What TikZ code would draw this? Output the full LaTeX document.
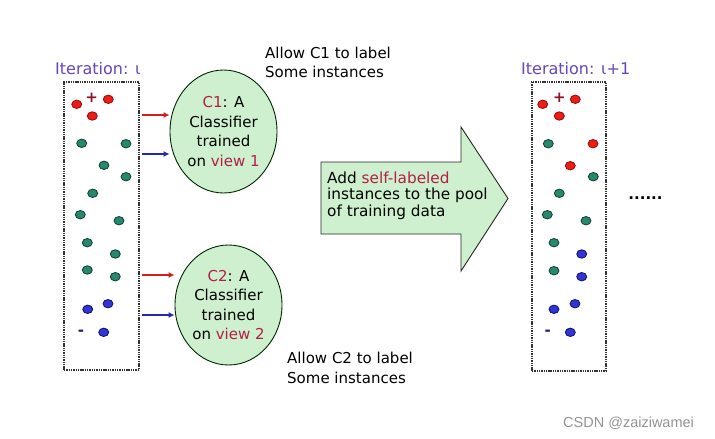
\documentclass[tikz,border=0pt]{standalone}
\usepackage{fontspec}
\setmainfont{DejaVu Sans}
\newfontfamily\wmfont{Liberation Sans}
\usetikzlibrary{shapes.geometric,arrows.meta}
\definecolor{iterpurple}{RGB}{105,70,190}
\definecolor{redfill}{RGB}{236,28,22}
\definecolor{redline}{RGB}{150,10,10}
\definecolor{tealfill}{RGB}{40,135,108}
\definecolor{tealline}{RGB}{12,62,50}
\definecolor{bluefill}{RGB}{52,52,214}
\definecolor{blueline}{RGB}{15,15,105}
\definecolor{lightgreen}{RGB}{206,240,206}
\definecolor{accent}{RGB}{178,30,72}
\definecolor{arrred}{RGB}{210,30,30}
\definecolor{arrblue}{RGB}{40,40,170}
\definecolor{plusred}{RGB}{140,20,40}
\definecolor{minusblue}{RGB}{30,30,100}
\begin{document}
\begin{tikzpicture}[x=1pt,y=-1pt,
  itertext/.style={inner sep=0pt, text=iterpurple, font=\fontsize{16}{19}\selectfont},
  poolbox/.style={draw=black!80, line width=1.2pt, dash pattern=on 1.4pt off 0.9pt, minimum width=75pt, minimum height=288pt, inner sep=0pt},
  reddot/.style={fill=redfill, draw=redline, line width=0.8pt},
  tealdot/.style={fill=tealfill, draw=tealline, line width=0.8pt},
  bluedot/.style={fill=bluefill, draw=blueline, line width=0.8pt},
  classifier/.style={ellipse, draw=black!85!green, line width=0.9pt, fill=lightgreen, inner sep=0pt, align=center, font=\fontsize{15}{19.5}\selectfont},
  redarr/.style={draw=arrred, line width=1.8pt, -{Latex[length=6pt,width=6pt]}},
  bluearr/.style={draw=arrblue, line width=1.8pt, -{Latex[length=6pt,width=6pt]}},
  bigarrow/.style={draw=black!85, line width=0.9pt, fill=lightgreen},
  note/.style={inner sep=0pt, align=left, font=\fontsize{15}{19.6}\selectfont},
  addtext/.style={inner sep=0pt, align=left, font=\fontsize{15.3}{16.5}\selectfont},
  sign/.style={inner sep=0pt, font=\bfseries\fontsize{15}{15}\selectfont}]
\useasboundingbox (0,0) rectangle (715,439);
\fill[white] (0,0) rectangle (715,439);

% iteration labels
\node[itertext, anchor=west] (it1) at (55,69) {Iteration: ι};
\node[itertext, anchor=west] (it2) at (521,69) {Iteration: ι+1};

% pools
\node[poolbox] (box1) at (101.5,226) {};
\node[poolbox, minimum width=74pt, minimum height=289pt] (box2) at (569,226.5) {};

% left pool dots
\foreach \x/\y in {76.7/104.3, 108.3/99.3, 92.3/116}
  \filldraw[reddot] (\x,\y) ellipse [x radius=5pt, y radius=4.2pt];
\foreach \x/\y in {81.7/143.3, 126/143.7, 104/165.3, 126/176.7, 92.7/193.3, 80.3/214.7, 119/220.7, 87.3/242.7, 115.3/254, 87.3/270, 115.3/276.7}
  \filldraw[tealdot] (\x,\y) ellipse [x radius=5pt, y radius=4.2pt];
\foreach \x/\y in {87.7/309.3, 108/303.7, 103.7/332.3}
  \filldraw[bluedot] (\x,\y) ellipse [x radius=5pt, y radius=4.2pt];
\node[sign, text=plusred] (p1) at (91.7,97.8) {+};
\node[sign, text=minusblue] (m1) at (81,333) {-};

% right pool dots
\foreach \x/\y in {542.7/104.3, 575.3/99.3, 559.3/116, 593/143.7, 570.3/165.7}
  \filldraw[reddot] (\x,\y) ellipse [x radius=5pt, y radius=4.2pt];
\foreach \x/\y in {548.3/143.7, 593.3/176.7, 559.3/193.3, 547.3/214.7, 586/220.7, 554/242.7, 554/270.7}
  \filldraw[tealdot] (\x,\y) ellipse [x radius=5pt, y radius=4.2pt];
\foreach \x/\y in {581.7/254, 581.7/276.7, 554/309.3, 575/303.7, 570.3/332.3}
  \filldraw[bluedot] (\x,\y) ellipse [x radius=5pt, y radius=4.2pt];
\node[sign, text=plusred] (p2) at (559.3,97.8) {+};
\node[sign, text=minusblue] (m2) at (547.7,332.6) {-};

% classifiers
\node[classifier, minimum width=107pt, minimum height=123pt] (c1) at (223.5,131.5)
  {\textcolor{accent}{C1}: A\\Classifier\\trained\\on \textcolor{accent}{view 1}};
\node[classifier, minimum width=107pt, minimum height=120pt] (c2) at (228.5,305)
  {\textcolor{accent}{C2}: A\\Classifier\\trained\\on \textcolor{accent}{view 2}};

% view arrows
\coordinate (r1) at (142,115);
\coordinate (b1) at (142,154);
\coordinate (r2) at (142,275);
\coordinate (b2) at (142,315);
\draw[redarr] (r1) -- (r1 -| c1.west);
\draw[bluearr] (b1) -- (b1 -| c1.west);
\draw[redarr] (r2) -- (r2 -| c2.west);
\draw[bluearr] (b2) -- (b2 -| c2.west);

% notes
\node[note, anchor=west] (n1) at (265,62.5) {Allow C1 to label\\Some instances};
\node[note, anchor=west] (n2) at (287,368) {Allow C2 to label\\Some instances};

% big arrow
\draw[bigarrow] (321,162) -- (461,162) -- (461,127) -- (508,198.5) -- (461,271) -- (461,234) -- (321,234) -- cycle;
\node[addtext, anchor=west] (add) at (327,195.5)
  {Add \textcolor{accent}{self-labeled}\\instances to the pool\\of training data};

% continuation
\node[inner sep=0pt, font=\bfseries\fontsize{15}{15}\selectfont] (dots) at (645.5,198) {......};

% watermark
\node[inner sep=0pt, anchor=west, text=black!42, font=\wmfont\fontsize{14.5}{16}\selectfont] (wm) at (563,423) {CSDN @zaiziwamei};
\end{tikzpicture}
\end{document}
